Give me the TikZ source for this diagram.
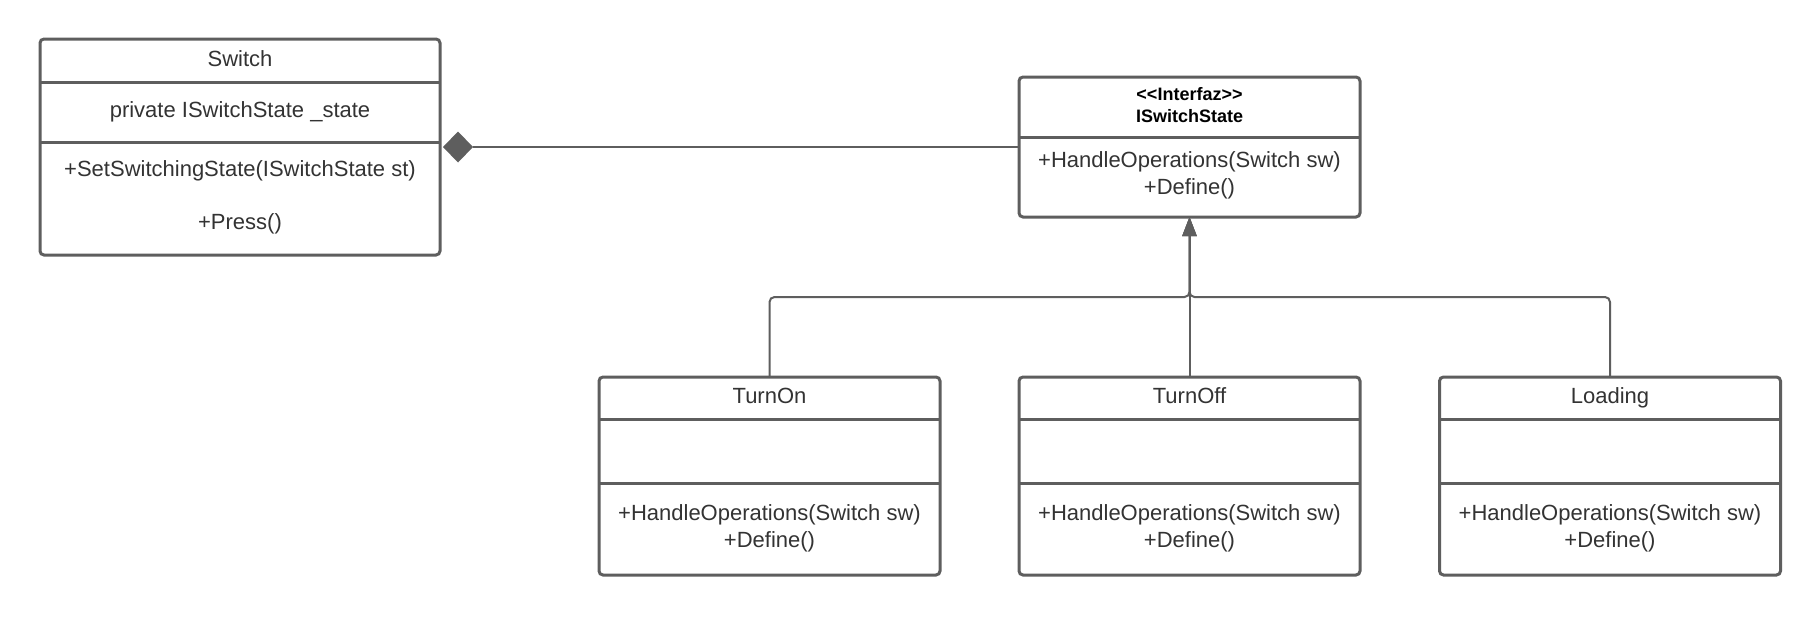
\documentclass[tikz,border=0pt]{standalone}
\usepackage{fontspec}
\setmainfont{Liberation Sans}
\usetikzlibrary{arrows.meta,shapes.geometric,calc}
\definecolor{lineg}{HTML}{5E5E5E}
\definecolor{txtg}{HTML}{333333}
\begin{document}
\begin{tikzpicture}[x=0.5pt,y=-0.5pt,
 umlbox/.style={draw=lineg, line width=1.5pt, rounded corners=2pt, fill=white, inner sep=0, outer sep=0},
 divider/.style={draw=lineg, line width=1.5pt},
 lbl/.style={text=txtg, font=\fontsize{11}{13.5}\selectfont, anchor=base, inner sep=0},
 hdr/.style={text=black, font=\fontsize{9}{11}\selectfont\bfseries, anchor=base, inner sep=0},
 conn/.style={draw=lineg, line width=1pt},
 inherit/.style={conn, -{Triangle[length=9.5pt,width=7pt]}, rounded corners=2.5pt}]
\fill[white] (0,0) rectangle (1820,616);
\useasboundingbox (0,0) rectangle (1820,616);

% Switch
\node[umlbox, minimum width=200pt, minimum height=108pt] (switch) at (240,147) {};
\draw[divider] ([yshift=-21.5pt]switch.north west) -- ([yshift=-21.5pt]switch.north east);
\draw[divider] ([yshift=-51.5pt]switch.north west) -- ([yshift=-51.5pt]switch.north east);
\node[lbl] (swname) at (240,66) {Switch};
\node[lbl] (swattr) at (240,117) {private ISwitchState \_state};
\node[lbl] (swm1) at (240,176) {+SetSwitchingState(ISwitchState st)};
\node[lbl] (swm2) at (240,229) {+Press()};

% Interface
\node[umlbox, minimum width=170.5pt, minimum height=70pt] (iface) at (1189.5,147) {};
\draw[divider] ([yshift=-30pt]iface.north west) -- ([yshift=-30pt]iface.north east);
\node[hdr] (ifst) at (1189.5,100) {<\kern0pt<Interfaz>\kern0pt>};
\node[hdr] (ifname) at (1189.5,122) {ISwitchState};
\node[lbl] (ifm1) at (1189.5,167) {+HandleOperations(Switch sw)};
\node[lbl] (ifm2) at (1189.5,194) {+Define()};

% Concrete states
\foreach \nm/\cx/\ttl in {turnon/769.5/TurnOn, turnoff/1189.5/TurnOff, loading/1610/Loading}{
  \node[umlbox, minimum width=170.5pt, minimum height=99pt] (\nm) at (\cx,476) {};
  \draw[divider] ([yshift=-21pt]\nm.north west) -- ([yshift=-21pt]\nm.north east);
  \draw[divider] ([yshift=-53pt]\nm.north west) -- ([yshift=-53pt]\nm.north east);
  \node[lbl] (\nm-name) at (\cx,403) {\ttl};
  \node[lbl] (\nm-m1) at (\cx,520) {+HandleOperations(Switch sw)};
  \node[lbl] (\nm-m2) at (\cx,547) {+Define()};
}

% Composition
\node[diamond, fill=lineg, inner sep=0, outer sep=0, minimum width=15pt, minimum height=15.5pt, anchor=west] (diam) at ([xshift=1.5pt]switch.east) {};
\draw[conn] (diam.east) -- (iface.west);

% Realization / inheritance
\coordinate (bus) at (1189.5,297);
\draw[inherit] (turnoff.north) -- (iface.south);
\draw[inherit] (turnon.north) |- (bus) -- (iface.south);
\draw[inherit] (loading.north) |- (bus) -- (iface.south);
\end{tikzpicture}
\end{document}
